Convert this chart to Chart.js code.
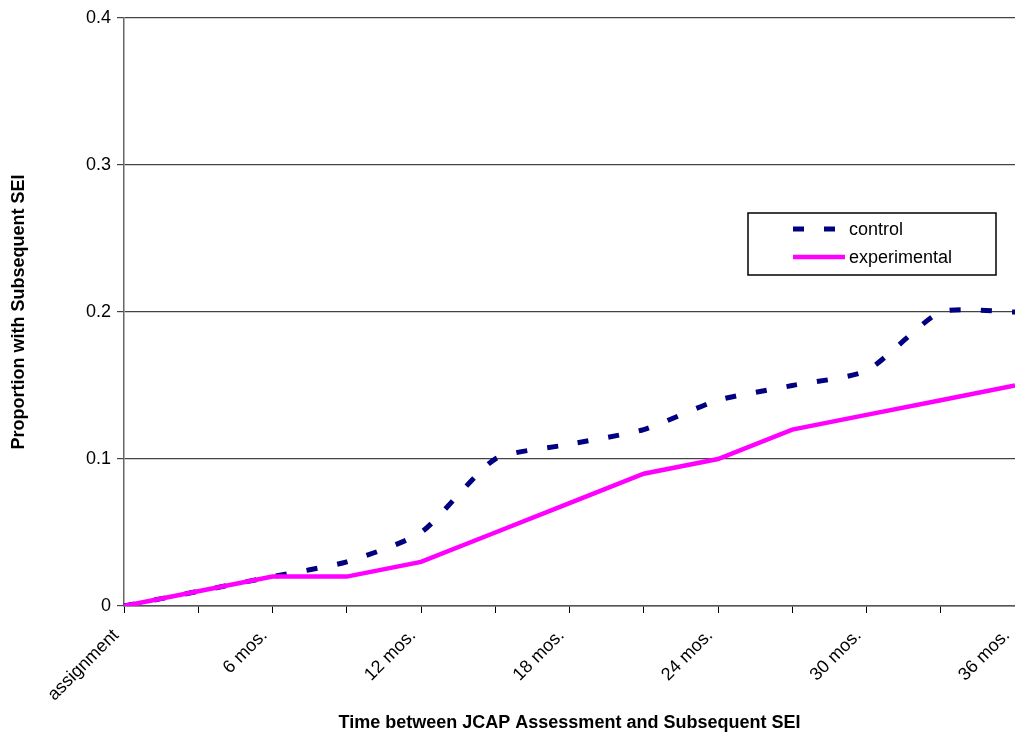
<!DOCTYPE html>
<html lang="en">
<head>
    <meta charset="UTF-8">
    <title>Proportion with Subsequent SEI</title>
    <script src="https://cdn.jsdelivr.net/npm/chart.js"></script>
    <style>
        body { margin: 0; padding: 0; background: #fff; }
        #wrap { width: 1015px; height: 736px; }
    </style>
</head>
<body>
<div id="wrap"><canvas id="seiChart" width="1015" height="736"></canvas></div>
<script>
    // 3-month steps, label on every other one
    const months = ['assignment', '', '6 mos.', '', '12 mos.', '', '18 mos.', '', '24 mos.', '', '30 mos.', '', '36 mos.'];
    const control = [0, 0.01, 0.02, 0.03, 0.05, 0.10, 0.11, 0.12, 0.14, 0.15, 0.16, 0.20, 0.20];
    const experimental = [0, 0.01, 0.02, 0.02, 0.03, 0.05, 0.07, 0.09, 0.10, 0.12, 0.13, 0.14, 0.15];
    const yTicks = [0, 0.1, 0.2, 0.3, 0.4];

    const FONT = 'Liberation Sans, Arial, sans-serif';

    // legend box drawn inside the plot, like the original
    const boxLegend = {
        id: 'boxLegend',
        afterDraw(chart) {
            const ctx = chart.ctx;
            const x0 = 748, y0 = 213, w = 248, h = 62;
            ctx.save();
            ctx.fillStyle = '#fff';
            ctx.fillRect(x0, y0, w, h);
            ctx.strokeStyle = '#000';
            ctx.lineWidth = 1.5;
            ctx.strokeRect(x0, y0, w, h);
            chart.data.datasets.forEach((ds, i) => {
                const y = y0 + 16 + i * 28;
                ctx.strokeStyle = ds.borderColor;
                ctx.lineWidth = ds.borderWidth;
                ctx.setLineDash(ds.borderDash || []);
                ctx.beginPath();
                ctx.moveTo(793, y);
                ctx.lineTo(845, y);
                ctx.stroke();
                ctx.setLineDash([]);
                ctx.fillStyle = '#000';
                ctx.font = '18px ' + FONT;
                ctx.textBaseline = 'middle';
                ctx.fillText(ds.label, 849, y + 1);
            });
            ctx.restore();
        }
    };

    const ctx = document.getElementById('seiChart').getContext('2d');
    new Chart(ctx, {
        type: 'line',
        data: {
            labels: months,
            datasets: [{
                label: 'control',
                data: control,
                borderColor: '#000080',
                borderWidth: 5,
                borderDash: [11, 20],
                tension: 0.2,
                pointRadius: 0,
                fill: false,
                order: 2
            }, {
                label: 'experimental',
                data: experimental,
                borderColor: '#ff00ff',
                borderWidth: 4.5,
                tension: 0,
                pointRadius: 0,
                fill: false,
                order: 1
            }]
        },
        options: {
            responsive: false,
            animation: false,
            layout: { padding: { top: 18, right: 0, left: 0, bottom: 0 } },
            plugins: {
                legend: { display: false },
                tooltip: { enabled: false }
            },
            scales: {
                x: {
                    offset: false,
                    grid: {
                        drawOnChartArea: false,
                        drawTicks: true,
                        tickLength: 7,
                        color: '#000'
                    },
                    border: { color: '#555', width: 1.5 },
                    ticks: {
                        autoSkip: false,
                        maxRotation: 45,
                        minRotation: 45,
                        color: '#000',
                        font: { family: FONT, size: 18 },
                        padding: 12,
                        labelOffset: -8
                    },
                    title: {
                        display: true,
                        text: 'Time between JCAP Assessment and Subsequent SEI',
                        color: '#000',
                        font: { family: FONT, size: 18, weight: 'bold' },
                        padding: { top: 0, bottom: 2 }
                    },
                    afterFit(scale) {
                        scale.height = 130;
                        scale.paddingLeft = 0;
                        scale.paddingRight = 0;
                    }
                },
                y: {
                    min: 0,
                    max: 0.4,
                    afterBuildTicks(scale) {
                        scale.ticks = yTicks.map(v => ({ value: v }));
                    },
                    grid: {
                        color: '#444',
                        lineWidth: 1.2,
                        tickLength: 7
                    },
                    border: { color: '#666', width: 1.5 },
                    ticks: {
                        color: '#000',
                        font: { family: FONT, size: 18 },
                        padding: 6
                    },
                    title: {
                        display: true,
                        text: 'Proportion with Subsequent SEI',
                        color: '#000',
                        font: { family: FONT, size: 18, weight: 'bold' },
                        padding: { top: 8, bottom: 0 }
                    },
                    afterFit(scale) {
                        scale.width = 124;
                        scale.paddingTop = 0;
                        scale.paddingBottom = 0;
                    }
                }
            }
        },
        plugins: [boxLegend]
    });
</script>
</body>
</html>
